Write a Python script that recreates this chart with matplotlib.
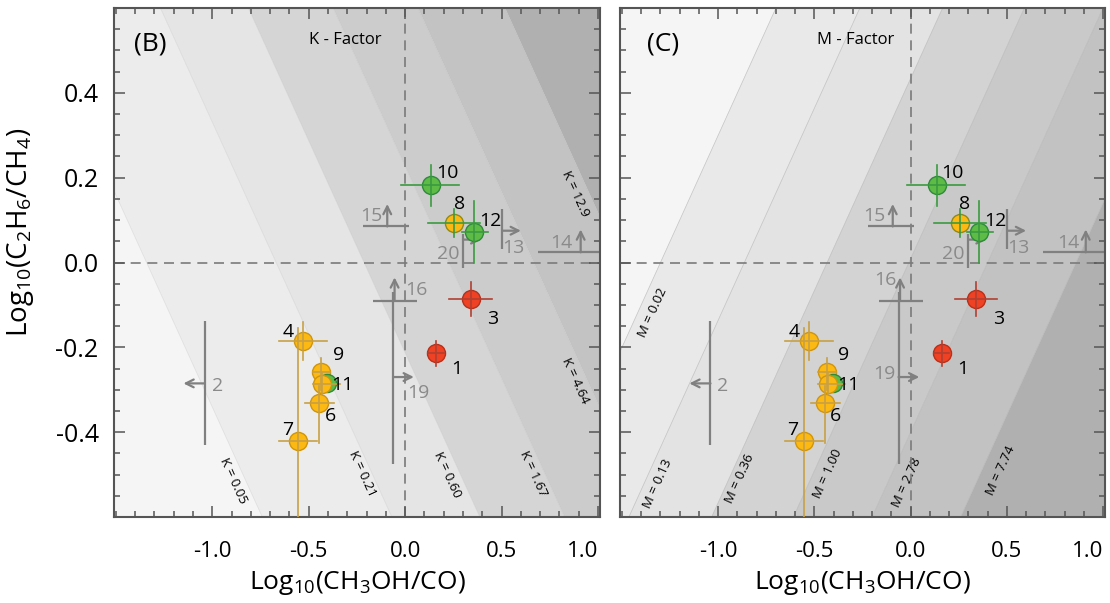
import numpy as np
import matplotlib
matplotlib.use('Agg')
import matplotlib.pyplot as plt
from matplotlib.ticker import MultipleLocator

plt.rcParams['font.family'] = ['Open Sans', 'DejaVu Sans']
plt.rcParams['mathtext.fontset'] = 'custom'
plt.rcParams['mathtext.rm'] = 'Open Sans'
plt.rcParams['mathtext.it'] = 'Open Sans:italic'
plt.rcParams['mathtext.bf'] = 'Open Sans:bold'
plt.rcParams['axes.unicode_minus'] = False

# observations: id, x, y, x range, y range, colour
ids   = ['1', '3', '4', '6', '7', '9', '10', '12', '8', '11g', '11']
xs    = [0.161, 0.342, -0.528, -0.446, -0.554, -0.435, 0.135, 0.357, 0.254, -0.405, -0.43]
ys    = [-0.214, -0.087, -0.186, -0.332, -0.42, -0.259, 0.182, 0.071, 0.092, -0.284, -0.286]
x_lo  = [0.12, 0.228, -0.653, -0.518, -0.653, -0.48, -0.02, 0.295, 0.12, -0.405, -0.48]
x_hi  = [0.20, 0.45, -0.404, -0.368, -0.456, -0.39, 0.28, 0.43, 0.39, -0.405, -0.34]
y_lo  = [-0.243, -0.127, -0.231, -0.425, -0.65, -0.30, 0.134, 0.0, 0.059, -0.284, -0.31]
y_hi  = [-0.184, -0.047, -0.141, -0.29, -0.155, -0.225, 0.229, 0.144, 0.125, -0.284, -0.26]
kinds = ['r', 'r', 'y', 'y', 'y', 'y', 'g', 'g', 'y8', 'g', 'y']

face = {'r': '#ef4123', 'y': '#fdb913', 'g': '#5dbb46', 'y8': '#fdb913'}
edge = {'r': '#b5311c', 'y': '#cf950c', 'g': '#2e8b3a', 'y8': '#8a8a20'}
barc = {'r': '#b04030', 'y': '#c8a044', 'g': '#3a9a40', 'y8': '#3a9a40'}

# number labels next to points
lab_txt = ['10', '8', '12', '3', '1', '4', '9', '11', '6', '7']
lab_x   = [0.218, 0.280, 0.44, 0.456, 0.269, -0.606, -0.347, -0.325, -0.389, -0.611]
lab_y   = [0.210, 0.139, 0.099, -0.132, -0.252, -0.163, -0.217, -0.288, -0.363, -0.394]

# limits (grey): lines and arrows
lim_lines = [  # x0, y0, x1, y1
    (-1.04, -0.139, -1.04, -0.43),     # 2
    (-0.166, -0.09, 0.062, -0.09),     # 16
    (-0.063, -0.07, -0.063, -0.474),   # 19
    (-0.22, 0.085, 0.02, 0.085),       # 15
    (0.30, 0.068, 0.30, -0.012),       # 20
    (0.503, 0.125, 0.503, 0.033),      # 13
    (0.69, 0.024, 1.05, 0.024),        # 14
]
lim_arrows = [  # start, end
    ((-1.04, -0.285), (-1.15, -0.285)),
    ((-0.055, -0.09), (-0.055, -0.035)),
    ((-0.063, -0.27), (0.045, -0.27)),
    ((-0.093, 0.085), (-0.093, 0.138)),
    ((0.30, 0.054), (0.395, 0.054)),
    ((0.503, 0.075), (0.60, 0.075)),
    ((0.91, 0.024), (0.91, 0.078)),
]
lim_txt = ['2', '16', '19', '15', '20', '13', '14']
lim_pos_B = [(-0.975, -0.29), (0.06, -0.064), (0.07, -0.307), (-0.175, 0.11),
             (0.225, 0.02), (0.56, 0.035), (0.81, 0.047)]
lim_pos_C = [(-0.975, -0.29), (-0.13, -0.042), (-0.135, -0.264), (-0.19, 0.11),
             (0.22, 0.02), (0.56, 0.035), (0.82, 0.047)]

# K-factor bands (x + y = c), M-factor bands (y - x = c)
k_bounds = [-1.341, -0.669, -0.213, 0.227, 0.667, 1.118]
k_cols = ['#f5f5f5', '#ececec', '#e5e5e5', '#d5d5d5', '#cccccc', '#c3c3c3', '#b0b0b0']
k_labels = ['K = 0.05', 'K = 0.21', 'K = 0.60', 'K = 1.67', 'K = 4.64', 'K = 12.9']
k_lx = [-0.891, -0.223, 0.218, 0.663, 0.881, 0.881]
k_ly = [-0.514, -0.498, -0.50, -0.498, -0.278, 0.163]

m_bounds = [1.30, 0.864, 0.434, 0.009, -0.40, -0.86]
m_cols = ['#f5f5f5', '#e9e9e9', '#e3e3e3', '#d3d3d3', '#c9c9c9', '#c2c2c2', '#b0b0b0']
m_labels = ['M = 0.02', 'M = 0.13', 'M = 0.36', 'M = 1.00', 'M = 2.78', 'M = 7.74']
m_lx = [-1.342, -1.316, -0.886, -0.43, -0.02, 0.47]
m_ly = [-0.118, -0.521, -0.509, -0.498, -0.519, -0.49]

fig = plt.figure(figsize=(11.1, 6.03), dpi=100)
axB = fig.add_axes([0.1027, 0.1426, 0.4378, 0.8441])
axC = fig.add_axes([0.5586, 0.1426, 0.4369, 0.8441])

xx = np.linspace(-3, 3, 50)
big = 10

def bands(ax, bounds, cols, sign, line_alpha):
    # sign=-1: y = c - x ; sign=+1: y = c + x
    edges = [-big] + list(bounds) + [big] if sign < 0 else [big] + list(bounds) + [-big]
    for i, col in enumerate(cols):
        c0, c1 = edges[i], edges[i + 1]
        ax.fill_between(xx, c0 + sign * xx, c1 + sign * xx, color=col, lw=0, zorder=0)
    for c in bounds:
        ax.plot(xx, c + sign * xx, color='#b0b0b0', lw=0.5, alpha=line_alpha, zorder=0.5)

bands(axB, k_bounds, k_cols, -1, 0.3)
bands(axC, m_bounds, m_cols, +1, 0.7)

for i, t in enumerate(k_labels):
    axB.text(k_lx[i], k_ly[i], t, fontsize=9.5, rotation=-65.5, ha='center', va='center', zorder=1)
for i, t in enumerate(m_labels):
    axC.text(m_lx[i], m_ly[i], t, fontsize=9.5, rotation=65.5, ha='center', va='center', zorder=1)

for ax, lpos in [(axB, lim_pos_B), (axC, lim_pos_C)]:
    ax.axvline(0, color='#7a7a7a', lw=1.2, dashes=(6, 4), zorder=1)
    ax.axhline(0, color='#7a7a7a', lw=1.2, dashes=(6, 4), zorder=1)
    for (x0, y0, x1, y1) in lim_lines:
        ax.plot([x0, x1], [y0, y1], color='#808080', lw=1.6, zorder=2, solid_capstyle='butt')
    for (s, e) in lim_arrows:
        ax.annotate('', xy=e, xytext=s, zorder=2,
                    arrowprops=dict(arrowstyle='->', color='#808080', lw=1.6,
                                    shrinkA=0, shrinkB=0, mutation_scale=14))
    for t, (px, py) in zip(lim_txt, lpos):
        ax.text(px, py, t, fontsize=14, color='#8a8a8a', ha='center', va='center', zorder=2)

    for i in range(len(xs)):
        k = kinds[i]
        ax.plot(xs[i], ys[i], 'o', ms=13, mfc=face[k], mec=edge[k], mew=1.0, zorder=3)
        if ids[i] == '11g':
            continue
        ax.plot([x_lo[i], x_hi[i]], [ys[i], ys[i]], color=barc[k], lw=1.2, zorder=4)
        ax.plot([xs[i], xs[i]], [y_lo[i], y_hi[i]], color=barc[k], lw=1.2, zorder=4)

    for t, px, py in zip(lab_txt, lab_x, lab_y):
        ax.text(px, py, t, fontsize=14, color='black', ha='center', va='center', zorder=5)

    ax.set_xlim(-1.51, 1.01)
    ax.set_ylim(-0.6, 0.6)
    ax.set_xticks([-1.0, -0.5, 0.0, 0.5, 1.0])
    ax.set_xticklabels(['-1.0', '-0.5', '0.0', '0.5', '1.0'], fontsize=16)
    ax.get_xticklabels()[-1].set_ha('right')
    ax.xaxis.set_minor_locator(MultipleLocator(0.1))
    ax.set_yticks([-0.4, -0.2, 0.0, 0.2, 0.4])
    ax.yaxis.set_minor_locator(MultipleLocator(0.05))
    ax.tick_params(which='both', direction='in', top=True, right=True, color='#555555', width=1.1)
    ax.tick_params(which='major', length=8)
    ax.tick_params(which='minor', length=4.5)
    ax.tick_params(axis='x', pad=17)
    ax.tick_params(axis='y', pad=11, labelsize=18)
    for sp in ax.spines.values():
        sp.set_color('#555555')
        sp.set_linewidth(1.5)
    ax.set_xlabel('Log$_{10}$(CH$_3$OH/CO)', fontsize=19)
    ax.xaxis.set_label_coords(0.5, -0.102)

axC.set_yticklabels([])
axB.set_ylabel('Log$_{10}$(C$_2$H$_6$/CH$_4$)', fontsize=20)
axB.yaxis.set_label_coords(-0.16, 0.56)

axB.text(-1.32, 0.516, '(B)', fontsize=19, ha='center', va='center')
axB.text(-0.311, 0.524, 'K - Factor', fontsize=12, ha='center', va='center')
axC.text(-1.285, 0.516, '(C)', fontsize=19, ha='center', va='center')
axC.text(-0.285, 0.524, 'M - Factor', fontsize=12, ha='center', va='center')

fig.savefig('out.png', dpi=100)
